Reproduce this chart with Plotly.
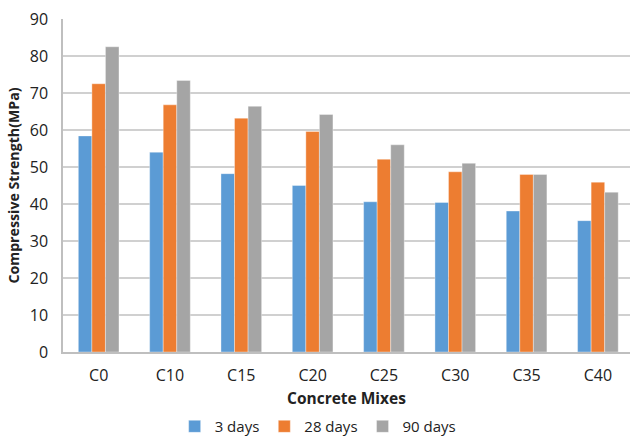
import plotly.graph_objects as go

mixes = ["C0", "C10", "C15", "C20", "C25", "C30", "C35", "C40"]
days_3 = [58.4, 54.0, 48.2, 45.0, 40.6, 40.4, 38.1, 35.5]
days_28 = [72.5, 66.8, 63.2, 59.6, 52.1, 48.7, 48.0, 45.9]
days_90 = [82.5, 73.4, 66.4, 64.2, 56.0, 51.0, 48.0, 43.2]
series_names = ["3 days", "28 days", "90 days"]
y_ticks = [0, 10, 20, 30, 40, 50, 60, 70, 80, 90]

colors = ["#5B9BD5", "#ED7D31", "#A5A5A5"]
font_family = "Open Sans, sans-serif"

fig = go.Figure()
for name, vals, col in zip(series_names, [days_3, days_28, days_90], colors):
    fig.add_trace(go.Bar(
        x=mixes, y=vals, name=name,
        marker=dict(color=col, line=dict(color="rgba(255,255,255,0.6)", width=0.6)),
    ))

# x-axis title placed as a paper annotation for exact vertical control
fig.add_annotation(
    text="<b>Concrete Mixes</b>", xref="paper", yref="paper",
    x=0.5, y=-0.137, xanchor="center", yanchor="middle",
    showarrow=False, font=dict(size=15.5, color="#222222"),
)

fig.update_layout(
    width=630, height=440,
    margin=dict(l=63, r=0, t=19, b=88),
    paper_bgcolor="white", plot_bgcolor="white",
    barmode="group", bargap=0.43, bargroupgap=0,
    font=dict(family=font_family, size=16, color="#222222"),
    showlegend=True,
    legend=dict(
        orientation="h", xref="container", yref="container",
        x=0.505, xanchor="center", y=0.068, yanchor="top",
        font=dict(size=15, color="#222222"),
        itemwidth=30, traceorder="normal",
    ),
    xaxis=dict(
        range=[-0.5, 7.45], automargin=False,
        showgrid=False, showline=True, linecolor="#BFBFBF", linewidth=1.5,
        ticks="", tickfont=dict(size=16), ticklabelstandoff=8,
    ),
    yaxis=dict(
        range=[0, 90], tickvals=y_ticks, automargin=False,
        showgrid=True, gridcolor="#D0D0D0", gridwidth=1.5,
        showline=True, linecolor="#BFBFBF", linewidth=1.5,
        zeroline=False, ticks="", ticklabelstandoff=10,
        tickfont=dict(size=16),
        title=dict(text="<b>Compressive Strength(MPa)</b>", font=dict(size=14.2), standoff=7),
    ),
)

fig.write_html("out.html")
